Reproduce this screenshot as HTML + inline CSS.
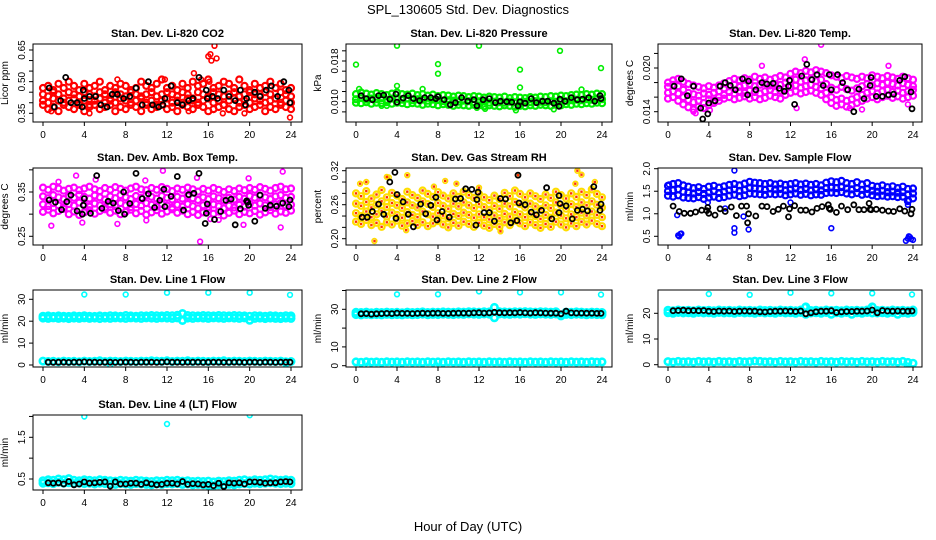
<!DOCTYPE html>
<html><head><meta charset="utf-8"><style>
html,body{margin:0;padding:0;background:#fff;}
svg{display:block;font-family:"Liberation Sans",sans-serif;}
</style></head><body>
<svg id="chart" width="936" height="540" viewBox="0 0 936 540" xmlns="http://www.w3.org/2000/svg">
<text x="468" y="14" text-anchor="middle" font-size="13">SPL_130605  Std. Dev. Diagnostics</text>
<text x="468" y="531" text-anchor="middle" font-size="13">Hour of Day (UTC)</text>
</svg>
<script>
// ---------- data ----------
const hourTicks = [0,4,8,12,16,20,24];

// CO2 (ppm)
const co2A = [0.47,0.48,0.46,0.49,0.47,0.50,0.48,0.46,0.49,0.47,0.48,0.50,0.46,0.48,0.47,0.49,0.48,0.46,0.47,0.50,0.48,0.47,0.49,0.51,0.47,0.48,0.46,0.49,0.47,0.50,0.48,0.49,0.51,0.47,0.48,0.50,0.49,0.47,0.51,0.48,0.46,0.49,0.47,0.48,0.50,0.47,0.49,0.46,0.47];
const co2B = [0.44,0.43,0.45,0.44,0.42,0.45,0.44,0.43,0.45,0.44,0.43,0.45,0.44,0.42,0.45,0.44,0.43,0.45,0.44,0.43,0.44,0.45,0.43,0.44,0.45,0.44,0.43,0.45,0.44,0.42,0.45,0.44,0.43,0.45,0.44,0.43,0.44,0.45,0.43,0.44,0.45,0.44,0.43,0.45,0.44,0.42,0.45,0.44,0.43];
const co2C = [0.41,0.40,0.42,0.41,0.40,0.41,0.42,0.40,0.41,0.39,0.41,0.42,0.40,0.41,0.40,0.42,0.41,0.40,0.41,0.42,0.40,0.41,0.39,0.41,0.42,0.40,0.41,0.40,0.42,0.41,0.40,0.41,0.42,0.40,0.41,0.39,0.41,0.42,0.40,0.41,0.40,0.42,0.41,0.40,0.41,0.42,0.40,0.41,0.40];
const co2D = [0.39,0.37,0.38,0.36,0.39,0.38,0.37,0.39,0.36,0.38,0.39,0.37,0.38,0.39,0.36,0.38,0.37,0.39,0.38,0.36,0.39,0.37,0.38,0.39,0.37,0.38,0.36,0.39,0.38,0.37,0.39,0.38,0.36,0.37,0.38,0.39,0.37,0.36,0.38,0.39,0.37,0.38,0.39,0.36,0.38,0.37,0.39,0.38,0.37];
const co2OutX = [16.0,16.2,16.6,16.8,16.3,14.6,15.3,16.1,23.9,14.1,17.4,19.5,4.5,0.8,7.2,11.8];
const co2OutY = [0.62,0.63,0.67,0.61,0.60,0.54,0.51,0.50,0.33,0.36,0.35,0.35,0.35,0.36,0.51,0.51];
const co2BlkX = [0.6,1.1,1.7,2.2,2.7,3.3,3.8,3.9,4.0,4.5,5.1,5.6,6.2,6.7,7.2,7.8,8.4,9.0,9.6,10.2,10.6,11.2,11.6,11.8,12.4,13.0,13.5,14.1,14.5,15.1,15.8,15.9,16.4,16.9,17.5,18.0,18.6,19.1,19.6,19.7,20.5,21.0,21.6,22.1,22.7,23.3,23.8,23.9];
const co2BlkY = [0.47,0.38,0.41,0.52,0.40,0.40,0.38,0.46,0.42,0.43,0.43,0.39,0.38,0.44,0.44,0.42,0.43,0.47,0.39,0.50,0.39,0.38,0.39,0.42,0.48,0.40,0.39,0.41,0.42,0.52,0.46,0.42,0.43,0.42,0.46,0.43,0.41,0.46,0.39,0.42,0.45,0.43,0.46,0.48,0.43,0.50,0.46,0.40];

// Pressure (kPa)
const prsA = [0.0115,0.0118,0.0116,0.0114,0.0117,0.0115,0.0113,0.0116,0.0118,0.0115,0.0114,0.0116,0.0113,0.0115,0.0112,0.0114,0.0111,0.0113,0.0112,0.0110,0.0112,0.0111,0.0109,0.0111,0.0110,0.0108,0.0110,0.0109,0.0108,0.0110,0.0107,0.0109,0.0108,0.0107,0.0109,0.0108,0.0110,0.0109,0.0111,0.0110,0.0112,0.0111,0.0113,0.0114,0.0113,0.0115,0.0114,0.0116,0.0115];
const prsB = [0.0105,0.0107,0.0104,0.0106,0.0105,0.0107,0.0104,0.0106,0.0105,0.0104,0.0106,0.0103,0.0105,0.0104,0.0102,0.0104,0.0103,0.0101,0.0103,0.0102,0.0100,0.0102,0.0101,0.0099,0.0101,0.0100,0.0098,0.0100,0.0099,0.0098,0.0100,0.0099,0.0098,0.0100,0.0099,0.0101,0.0100,0.0099,0.0101,0.0100,0.0102,0.0101,0.0103,0.0104,0.0103,0.0105,0.0104,0.0106,0.0105];
const prsC = [0.0098,0.0097,0.0099,0.0096,0.0098,0.0097,0.0099,0.0096,0.0098,0.0097,0.0095,0.0097,0.0096,0.0094,0.0096,0.0095,0.0093,0.0095,0.0094,0.0092,0.0094,0.0093,0.0092,0.0094,0.0093,0.0091,0.0093,0.0092,0.0091,0.0093,0.0092,0.0090,0.0092,0.0091,0.0093,0.0092,0.0094,0.0093,0.0092,0.0094,0.0093,0.0095,0.0094,0.0096,0.0095,0.0097,0.0096,0.0098,0.0097];
const prsOutX = [0,4,12,19.9,8,8,16,23.9,4,16,0.3,6.5,22,15.6,19.3,12.6,11.8,2.5,3.0];
const prsOutY = [0.0173,0.0210,0.0210,0.0200,0.0174,0.0155,0.0163,0.0166,0.0131,0.0128,0.0125,0.0125,0.0124,0.0083,0.0085,0.0086,0.0088,0.0092,0.0092];
const prsBlkX = [0.5,1.0,1.6,2.2,2.7,3.3,3.9,4.0,4.6,5.1,5.6,6.2,6.7,7.3,7.8,8.0,8.6,9.2,9.7,10.3,10.9,11.5,11.8,12.4,13.0,13.6,14.1,14.7,15.2,15.8,16.0,16.5,17.1,17.6,18.2,18.7,19.3,19.8,19.9,20.4,21.0,21.6,22.1,22.7,23.3,23.8,23.9];
const prsBlkY = [0.0112,0.0106,0.0104,0.0112,0.0113,0.0105,0.0115,0.0099,0.0107,0.0112,0.0106,0.0102,0.0108,0.0108,0.0106,0.0110,0.0104,0.0094,0.0098,0.0108,0.0101,0.0104,0.0092,0.0104,0.0106,0.0098,0.0101,0.0100,0.0099,0.0092,0.0100,0.0097,0.0106,0.0098,0.0101,0.0101,0.0097,0.0091,0.0105,0.0101,0.0108,0.0104,0.0105,0.0108,0.0101,0.0112,0.0106];

// Li-820 temperature (degrees C)
const tmpA = [0.0180,0.0183,0.0185,0.0181,0.0178,0.0176,0.0174,0.0172,0.0175,0.0173,0.0176,0.0179,0.0182,0.0185,0.0183,0.0186,0.0184,0.0188,0.0185,0.0187,0.0184,0.0186,0.0189,0.0187,0.0192,0.0195,0.0193,0.0196,0.0194,0.0197,0.0195,0.0193,0.0190,0.0188,0.0186,0.0189,0.0187,0.0185,0.0188,0.0186,0.0190,0.0188,0.0186,0.0189,0.0187,0.0185,0.0188,0.0186,0.0184];
const tmpB = [0.0174,0.0177,0.0175,0.0170,0.0166,0.0164,0.0162,0.0165,0.0163,0.0166,0.0168,0.0172,0.0175,0.0177,0.0174,0.0176,0.0178,0.0175,0.0177,0.0179,0.0176,0.0178,0.0177,0.0180,0.0182,0.0184,0.0181,0.0183,0.0185,0.0182,0.0184,0.0178,0.0173,0.0170,0.0174,0.0171,0.0169,0.0172,0.0175,0.0178,0.0176,0.0179,0.0177,0.0180,0.0178,0.0176,0.0179,0.0177,0.0175];
const tmpC = [0.0166,0.0168,0.0165,0.0160,0.0156,0.0153,0.0155,0.0152,0.0157,0.0155,0.0160,0.0163,0.0167,0.0165,0.0168,0.0166,0.0169,0.0167,0.0165,0.0168,0.0170,0.0167,0.0169,0.0172,0.0174,0.0176,0.0173,0.0175,0.0177,0.0174,0.0172,0.0166,0.0160,0.0156,0.0158,0.0155,0.0157,0.0160,0.0163,0.0166,0.0168,0.0165,0.0168,0.0170,0.0167,0.0169,0.0166,0.0168,0.0170];
const tmpD = [0.0158,0.0160,0.0155,0.0150,0.0146,0.0143,0.0147,0.0145,0.0149,0.0152,0.0155,0.0158,0.0160,0.0157,0.0159,0.0161,0.0158,0.0160,0.0157,0.0159,0.0162,0.0160,0.0158,0.0163,0.0166,0.0168,0.0165,0.0167,0.0169,0.0166,0.0163,0.0157,0.0152,0.0148,0.0150,0.0147,0.0149,0.0152,0.0155,0.0158,0.0160,0.0157,0.0160,0.0162,0.0159,0.0161,0.0158,0.0160,0.0162];
const tmpOutX = [15.0,13.4,9.2,21.6,2.5,4.1,12.6,17.8,23.5,2.7,19.0];
const tmpOutY = [0.0232,0.0212,0.0203,0.0203,0.0140,0.0142,0.0145,0.0145,0.0150,0.0138,0.0143];
const tmpBlkX = [0.6,1.3,1.9,2.5,3.2,3.4,3.9,4.0,4.6,5.1,5.6,6.1,6.6,7.3,7.8,7.9,8.6,9.2,9.7,10.3,10.9,11.4,11.8,11.9,12.4,13.1,13.6,14.1,14.6,15.2,15.8,16.0,16.6,17.1,17.6,18.2,18.7,19.2,19.8,19.9,20.4,21.0,21.6,22.1,22.7,23.2,23.8,23.9];
const tmpBlkY = [0.0175,0.0185,0.0162,0.0175,0.0145,0.0130,0.0137,0.0152,0.0155,0.0175,0.0180,0.0176,0.0170,0.0185,0.0163,0.0182,0.0170,0.0180,0.0178,0.0179,0.0172,0.0168,0.0175,0.0183,0.0150,0.0189,0.0205,0.0184,0.0191,0.0176,0.0191,0.0170,0.0191,0.0180,0.0170,0.0140,0.0171,0.0158,0.0176,0.0187,0.0161,0.0161,0.0163,0.0164,0.0183,0.0188,0.0167,0.0144];

// Ambient box temperature (degrees C)
const boxA = [0.360,0.355,0.362,0.358,0.353,0.357,0.360,0.354,0.358,0.362,0.356,0.352,0.359,0.355,0.361,0.357,0.353,0.358,0.362,0.356,0.354,0.359,0.355,0.361,0.357,0.352,0.358,0.355,0.360,0.356,0.351,0.357,0.353,0.359,0.355,0.350,0.356,0.352,0.358,0.354,0.359,0.355,0.361,0.357,0.353,0.359,0.362,0.356,0.358];
const boxB = [0.340,0.336,0.343,0.338,0.334,0.341,0.337,0.344,0.339,0.335,0.342,0.338,0.333,0.340,0.336,0.343,0.338,0.334,0.341,0.337,0.343,0.339,0.335,0.341,0.337,0.333,0.339,0.335,0.341,0.336,0.332,0.338,0.334,0.340,0.336,0.331,0.337,0.333,0.339,0.335,0.341,0.337,0.342,0.338,0.334,0.340,0.343,0.337,0.339];
const boxC = [0.322,0.318,0.325,0.320,0.316,0.323,0.319,0.326,0.321,0.317,0.324,0.320,0.315,0.322,0.318,0.325,0.320,0.316,0.323,0.319,0.325,0.321,0.317,0.323,0.319,0.315,0.321,0.317,0.323,0.318,0.313,0.320,0.316,0.322,0.318,0.313,0.319,0.315,0.321,0.317,0.323,0.319,0.324,0.320,0.316,0.322,0.325,0.319,0.321];
const boxD = [0.305,0.310,0.302,0.307,0.312,0.300,0.306,0.298,0.304,0.309,0.301,0.307,0.311,0.303,0.308,0.300,0.305,0.310,0.302,0.307,0.299,0.304,0.309,0.301,0.306,0.311,0.303,0.308,0.300,0.305,0.298,0.304,0.309,0.301,0.306,0.297,0.303,0.308,0.300,0.305,0.302,0.307,0.299,0.304,0.309,0.301,0.306,0.303,0.308];
const boxOutX = [0.8,3.2,11.6,15.2,23.0,23.2,7.2,5.1,16.2,17.0,3.8,19.4,10.0,1.5,9.9,19.9,14.9];
const boxOutY = [0.274,0.387,0.398,0.238,0.270,0.396,0.278,0.378,0.289,0.287,0.281,0.276,0.286,0.373,0.376,0.381,0.382];
const boxBlkX = [0.6,1.2,1.8,2.3,2.7,3.3,3.8,3.9,4.0,4.6,5.2,5.7,6.3,6.8,7.3,7.8,7.9,8.4,9.0,9.6,10.2,10.8,11.3,11.7,11.8,12.4,13.0,13.6,14.1,14.6,15.1,15.7,15.8,15.9,16.6,17.2,17.7,18.2,18.6,19.1,19.7,19.8,19.9,20.5,21.0,21.5,22.0,22.6,23.2,23.8,23.9];
const boxBlkY = [0.332,0.327,0.310,0.328,0.343,0.307,0.300,0.320,0.335,0.302,0.387,0.313,0.329,0.325,0.308,0.350,0.300,0.324,0.392,0.335,0.346,0.315,0.331,0.356,0.317,0.340,0.385,0.309,0.344,0.347,0.392,0.279,0.302,0.323,0.288,0.306,0.331,0.334,0.276,0.312,0.330,0.327,0.320,0.284,0.343,0.313,0.320,0.318,0.325,0.317,0.332];

// Gas stream RH (percent)
const rhA = [0.280,0.275,0.284,0.271,0.278,0.286,0.273,0.281,0.276,0.270,0.283,0.277,0.272,0.285,0.279,0.274,0.282,0.276,0.271,0.280,0.274,0.283,0.277,0.272,0.279,0.273,0.268,0.276,0.270,0.281,0.275,0.285,0.279,0.273,0.280,0.275,0.270,0.278,0.272,0.283,0.277,0.271,0.280,0.274,0.283,0.277,0.287,0.279,0.273];
const rhB = [0.262,0.258,0.265,0.255,0.260,0.266,0.256,0.263,0.259,0.254,0.264,0.259,0.255,0.266,0.261,0.256,0.263,0.258,0.253,0.262,0.257,0.264,0.259,0.254,0.261,0.256,0.251,0.258,0.253,0.262,0.257,0.265,0.261,0.255,0.262,0.257,0.252,0.259,0.254,0.264,0.259,0.253,0.261,0.256,0.264,0.259,0.266,0.260,0.255];
const rhC = [0.245,0.240,0.248,0.238,0.243,0.249,0.239,0.246,0.242,0.237,0.247,0.242,0.238,0.248,0.243,0.239,0.245,0.241,0.236,0.244,0.240,0.246,0.242,0.237,0.243,0.238,0.234,0.241,0.236,0.244,0.239,0.247,0.243,0.238,0.244,0.240,0.235,0.242,0.237,0.246,0.241,0.236,0.243,0.238,0.246,0.241,0.248,0.242,0.238];
const rhD = [0.230,0.226,0.233,0.224,0.228,0.221,0.229,0.225,0.232,0.223,0.227,0.231,0.224,0.229,0.222,0.227,0.231,0.225,0.220,0.228,0.223,0.230,0.226,0.221,0.228,0.223,0.219,0.226,0.221,0.229,0.224,0.232,0.227,0.222,0.229,0.224,0.219,0.226,0.221,0.230,0.225,0.220,0.227,0.222,0.230,0.225,0.232,0.226,0.222];
const rhOutX = [1.8,3.2,5.0,8.7,9.8,15.8,21.6,22.0,23.3,14.1,4.9,0.4,1.0,21.4,3.0,12.0,7.6];
const rhOutY = [0.196,0.308,0.312,0.302,0.297,0.312,0.320,0.313,0.300,0.213,0.215,0.297,0.300,0.297,0.309,0.290,0.292];
const rhBlkX = [0.6,1.1,1.6,2.2,2.7,3.3,3.8,3.9,4.0,4.6,5.1,5.6,6.3,6.8,7.3,7.8,7.9,8.4,9.1,9.7,10.2,10.7,11.3,11.7,11.8,11.9,12.5,13.0,13.5,14.1,14.6,15.1,15.7,15.8,15.9,16.5,17.1,17.6,18.1,18.6,19.1,19.8,19.8,19.9,20.5,21.1,21.6,22.1,22.6,23.2,23.8,23.9];
const rhBlkY = [0.238,0.238,0.248,0.261,0.243,0.300,0.317,0.236,0.278,0.265,0.243,0.221,0.261,0.244,0.259,0.273,0.233,0.248,0.238,0.270,0.271,0.288,0.287,0.224,0.269,0.282,0.246,0.246,0.231,0.271,0.270,0.228,0.232,0.312,0.263,0.260,0.247,0.242,0.250,0.290,0.235,0.276,0.246,0.262,0.258,0.235,0.250,0.252,0.249,0.292,0.250,0.261];

// Sample flow (ml/min)
const sfA = [1.62,1.66,1.68,1.63,1.60,1.57,1.59,1.55,1.60,1.62,1.58,1.61,1.64,1.66,1.63,1.67,1.71,1.69,1.68,1.66,1.68,1.65,1.67,1.64,1.66,1.68,1.65,1.67,1.64,1.66,1.63,1.69,1.72,1.70,1.73,1.68,1.66,1.70,1.65,1.68,1.62,1.60,1.63,1.59,1.61,1.57,1.60,1.55,1.56];
const sfB = [1.50,1.52,1.54,1.49,1.47,1.45,1.48,1.44,1.47,1.50,1.46,1.49,1.52,1.54,1.51,1.53,1.57,1.56,1.55,1.53,1.56,1.54,1.55,1.52,1.54,1.56,1.53,1.55,1.52,1.54,1.52,1.57,1.58,1.57,1.59,1.56,1.54,1.57,1.53,1.55,1.51,1.49,1.51,1.48,1.49,1.47,1.48,1.43,1.45];
const sfC = [1.40,1.38,1.41,1.36,1.35,1.34,1.37,1.33,1.36,1.38,1.35,1.37,1.40,1.42,1.39,1.41,1.45,1.44,1.43,1.42,1.44,1.43,1.44,1.41,1.43,1.45,1.42,1.44,1.41,1.43,1.42,1.46,1.47,1.46,1.48,1.45,1.43,1.46,1.42,1.44,1.41,1.39,1.40,1.38,1.39,1.37,1.38,1.28,1.34];
const sfOutX = [1.0,1.1,1.2,1.3,0.9,6.5,6.5,6.5,7.9,7.4,5.6,3.9,12.0,16.0,23.3,23.5,23.6,23.8,24.0,23.7,23.5,23.6,0.1];
const sfOutY = [0.52,0.50,0.55,0.56,0.97,1.96,0.68,0.58,0.65,0.94,1.12,1.25,1.25,0.68,0.40,0.45,0.50,0.44,0.42,0.48,1.20,1.30,1.65];
const sfBlkX = [0.5,1.1,1.6,2.2,2.7,3.3,3.8,3.9,4.0,4.6,5.1,5.6,6.2,6.7,7.2,7.7,7.8,7.9,8.6,9.2,9.7,10.3,10.8,11.3,11.8,11.9,12.4,13.0,13.5,14.1,14.6,15.1,15.7,15.8,15.9,16.5,17.0,17.6,18.2,18.7,19.2,19.7,19.8,19.9,20.4,21.0,21.6,22.1,22.7,23.2,23.8,23.9];
const sfBlkY = [1.17,1.05,1.01,1.01,1.04,1.08,1.07,1.14,1.01,0.97,1.11,1.05,1.15,0.96,1.17,1.17,0.80,1.00,0.95,1.17,1.16,1.05,1.10,1.17,0.93,1.11,1.18,1.08,1.08,1.04,1.12,1.16,1.20,1.12,1.10,1.03,1.17,1.09,1.20,1.09,1.09,1.23,1.10,1.09,1.10,1.08,1.06,1.05,1.11,1.06,1.00,1.10];

// Line 1 flow (ml/min)
const l1A = [22.3,22.4,22.2,22.4,22.3,22.2,22.4,22.3,22.5,22.3,22.2,22.4,22.3,22.5,22.4,22.3,22.6,22.4,22.3,22.5,22.4,22.6,22.5,22.4,22.6,22.5,22.7,23.5,22.6,22.5,22.4,22.6,22.5,22.4,22.6,22.5,22.4,22.6,22.5,22.4,22.3,22.5,22.4,22.3,22.5,22.4,22.3,22.5,22.4];
const l1B = [21.4,21.3,21.5,21.3,21.4,21.2,21.4,21.3,21.5,21.3,21.4,21.2,21.4,21.3,21.5,21.4,21.3,21.5,21.4,21.3,21.5,21.4,21.3,21.5,21.4,21.3,21.5,20.3,21.4,21.3,21.5,21.4,21.3,21.5,21.4,21.3,21.5,21.4,21.3,21.5,20.4,21.3,21.4,21.2,21.4,21.3,21.2,21.4,21.3];
const l1Low = [1.8,1.6,1.7,1.5,1.8,1.6,1.7,1.5,1.8,1.6,1.7,1.9,1.6,1.8,1.7,1.6,1.8,1.7,1.6,1.8,1.7,1.9,1.8,1.7,1.9,1.6,1.8,1.7,1.9,1.6,1.8,1.7,1.6,1.8,1.7,1.9,1.6,1.8,1.7,1.6,1.8,1.7,1.6,1.8,1.7,1.6,1.8,1.5,1.6];
const l1OutX = [4,8,12,16,20,23.9,6.5,23.5];
const l1OutY = [32.2,32.2,33.0,33.0,33.0,32.0,0.0,0.2];
const l1BlkX = [0.5,1.0,1.5,2.0,2.5,3.0,3.5,4.0,4.5,5.0,5.5,6.0,6.5,7.0,7.5,8.0,8.5,9.0,9.5,10.0,10.5,11.0,11.5,12.0,12.5,13.0,13.5,14.0,14.5,15.0,15.5,16.0,16.5,17.0,17.5,18.0,18.5,19.0,19.5,20.0,20.5,21.0,21.5,22.0,22.5,23.0,23.5,23.9];
const l1BlkY = [1.3,1.2,1.3,1.3,1.2,1.3,1.3,1.4,1.3,1.3,1.2,1.3,1.3,1.2,1.3,1.3,1.3,1.2,1.3,1.3,1.3,1.2,1.3,1.4,1.3,1.3,1.2,1.3,1.3,1.3,1.2,1.3,1.3,1.3,1.2,1.3,1.3,1.3,1.2,1.3,1.3,1.2,1.3,1.3,1.2,1.3,1.3,1.3];

// Line 2 flow (ml/min)
const l2A = [28.4,28.3,28.5,28.2,28.4,28.3,28.5,28.3,28.4,28.2,28.5,28.3,28.4,28.6,28.3,28.5,28.4,28.6,28.5,28.4,28.6,28.5,28.7,28.6,28.5,28.7,28.6,31.0,28.7,28.6,28.5,28.7,28.6,28.8,28.6,28.5,28.7,28.6,28.5,28.7,27.0,28.5,28.4,28.6,28.5,28.3,28.5,28.4,28.3];
const l2B = [27.2,27.0,27.3,27.1,27.2,27.0,27.3,27.1,27.2,27.0,27.3,27.1,27.2,27.4,27.1,27.3,27.2,27.4,27.3,27.2,27.4,27.3,27.5,27.4,27.3,27.5,27.4,25.5,27.5,27.4,27.3,27.5,27.4,27.6,27.4,27.3,27.5,27.4,27.3,27.5,26.5,27.3,27.2,27.4,27.3,27.1,27.3,27.2,27.1];
const l2Low = [2.0,1.8,2.1,1.9,2.0,1.8,2.1,1.9,2.0,1.8,2.1,1.9,2.0,1.8,2.1,1.9,2.0,1.8,2.1,1.9,2.0,1.8,2.1,1.9,2.0,1.8,2.1,1.9,2.0,1.8,2.1,1.9,2.0,1.8,2.1,1.9,2.0,1.8,2.1,1.9,2.0,1.8,2.1,1.9,2.0,1.8,2.1,1.9,2.0];
const l2OutX = [4,8,12,16,20,23.9,1.2,7.8];
const l2OutY = [38.0,38.0,39.5,39.0,39.0,37.8,0.3,0.3];
const l2BlkX = [0.5,1.0,1.5,2.0,2.5,3.0,3.5,4.0,4.5,5.0,5.5,6.0,6.5,7.0,7.5,8.0,8.5,9.0,9.5,10.0,10.5,11.0,11.5,12.0,12.5,13.0,13.5,14.0,14.5,15.0,15.5,16.0,16.5,17.0,17.5,18.0,18.5,19.0,19.5,20.0,20.5,21.0,21.5,22.0,22.5,23.0,23.5,23.9];
const l2BlkY = [27.6,27.7,27.4,27.6,27.7,27.8,27.7,28.0,27.8,27.8,27.7,27.8,27.9,27.8,27.9,28.0,27.8,27.8,27.9,28.0,28.0,27.9,28.1,28.2,28.0,28.1,28.4,28.2,28.1,28.2,28.1,28.3,28.1,28.0,28.2,28.1,28.0,27.9,27.9,27.6,29.0,28.1,28.0,28.0,27.9,27.9,27.8,27.8];

// Line 3 flow (ml/min)
const l3A = [21.2,21.0,21.3,21.1,21.2,21.0,21.3,21.1,21.2,21.0,21.3,21.1,21.2,21.0,21.3,21.1,21.2,21.0,21.3,21.1,21.2,21.0,21.3,21.1,21.2,21.0,21.3,22.5,21.1,21.2,21.0,21.3,21.1,21.2,21.0,21.3,21.1,21.2,21.0,21.3,22.5,21.1,21.2,21.0,21.3,21.1,21.2,21.0,21.3];
const l3B = [20.2,20.0,20.3,20.1,20.2,20.0,20.3,20.1,20.2,20.0,20.3,20.1,20.2,20.0,20.3,20.1,20.2,20.0,20.3,20.1,20.2,20.0,20.3,20.1,20.2,20.0,20.3,19.6,20.1,20.2,20.0,20.3,19.6,20.2,20.0,20.3,19.6,20.2,20.0,20.3,20.1,20.1,20.2,20.0,20.3,19.6,20.2,20.0,20.3];
const l3Low = [1.2,1.0,1.3,1.1,1.2,1.0,1.3,1.1,1.2,1.0,1.3,1.1,1.2,1.0,1.3,1.1,1.2,1.4,1.3,1.1,1.2,1.0,1.3,1.1,1.2,1.0,1.3,1.1,1.2,1.0,1.3,1.1,1.2,1.0,1.3,1.1,1.2,1.0,1.3,1.1,1.2,1.0,1.3,1.1,1.2,1.0,1.3,0.9,0.6];
const l3OutX = [4,8,12,16,20,23.9,23.4,13.4,20.1];
const l3OutY = [27.5,27.2,28.0,27.8,27.8,27.3,-0.3,22.5,22.5];
const l3BlkX = [0.5,1.0,1.5,2.0,2.5,3.0,3.5,4.0,4.5,5.0,5.5,6.0,6.5,7.0,7.5,8.0,8.5,9.0,9.5,10.0,10.5,11.0,11.5,12.0,12.5,13.0,13.5,14.0,14.5,15.0,15.5,16.0,16.5,17.0,17.5,18.0,18.5,19.0,19.5,20.0,20.5,21.0,21.5,22.0,22.5,23.0,23.5,23.9];
const l3BlkY = [21.0,21.1,21.2,21.0,21.1,21.0,21.1,20.8,20.7,20.9,20.8,20.9,20.7,20.8,20.9,20.8,20.8,20.6,20.5,20.7,20.8,20.8,20.9,20.8,20.7,20.9,19.8,20.2,20.6,20.8,20.8,21.0,20.3,20.6,20.7,20.7,20.8,20.8,20.9,21.3,20.2,21.1,20.9,20.8,20.9,20.8,20.8,20.9];

// Line 4 (LT) flow (ml/min)
const l4A = [0.46,0.48,0.47,0.50,0.48,0.51,0.47,0.46,0.48,0.47,0.46,0.48,0.47,0.46,0.45,0.47,0.46,0.45,0.47,0.46,0.45,0.44,0.46,0.45,0.47,0.46,0.47,0.45,0.46,0.44,0.45,0.44,0.45,0.43,0.45,0.44,0.46,0.45,0.47,0.48,0.46,0.48,0.47,0.48,0.50,0.48,0.47,0.48,0.47];
const l4B = [0.40,0.41,0.39,0.42,0.40,0.41,0.39,0.40,0.39,0.40,0.38,0.40,0.39,0.38,0.37,0.39,0.38,0.37,0.39,0.38,0.37,0.36,0.38,0.37,0.39,0.38,0.39,0.37,0.38,0.36,0.37,0.36,0.35,0.34,0.36,0.35,0.37,0.36,0.38,0.39,0.38,0.40,0.39,0.40,0.41,0.40,0.39,0.40,0.39];
const l4OutX = [4,12,20];
const l4OutY = [2.00,1.82,2.03];
const l4BlkX = [0.5,1.0,1.5,2.0,2.5,3.0,3.5,4.0,4.5,5.0,5.5,6.0,6.5,7.0,7.5,8.0,8.5,9.0,9.5,10.0,10.5,11.0,11.5,12.0,12.5,13.0,13.5,14.0,14.5,15.0,15.5,16.0,16.5,17.0,17.5,18.0,18.5,19.0,19.5,20.0,20.5,21.0,21.5,22.0,22.5,23.0,23.5,23.9];
const l4BlkY = [0.41,0.40,0.41,0.38,0.44,0.36,0.38,0.43,0.40,0.41,0.42,0.43,0.33,0.43,0.38,0.38,0.40,0.40,0.37,0.41,0.38,0.36,0.37,0.40,0.40,0.38,0.44,0.37,0.39,0.38,0.36,0.37,0.34,0.40,0.32,0.41,0.40,0.41,0.38,0.43,0.43,0.42,0.40,0.41,0.41,0.43,0.44,0.43];

// ---------- rendering ----------
const NS = "http://www.w3.org/2000/svg";
const svg = document.getElementById("chart");
function mk(tag, attrs, parent) {
  const e = document.createElementNS(NS, tag);
  for (const k in attrs) e.setAttribute(k, attrs[k]);
  (parent || svg).appendChild(e);
  return e;
}
const cols = [{bl:33,br:302,x0:43,x24:291},{bl:346,br:612,x0:356,x24:602},{bl:658,br:922,x0:668,x24:913}];
const rows = [{t:44,b:122},{t:168,b:245},{t:290,b:367},{t:415,b:490}];

const panels = [
 {name:"co2",title:"Stan. Dev. Li-820 CO2",ylab:"Licor ppm",c:0,r:0,ref:[0.35,113.3,0.65,50],ticks:[0.35,0.40,0.45,0.50,0.55,0.60,0.65],labs:[[0.35,"0.35"],[0.50,"0.50"],[0.65,"0.65"]],cloud:[co2A,co2B,co2C,co2D],out:[co2OutX,co2OutY],blk:[co2BlkX,co2BlkY],col:"#ff0000"},
 {name:"pressure",title:"Stan. Dev. Li-820 Pressure",ylab:"kPa",c:1,r:0,ref:[0.010,101.7,0.018,61],ticks:[0.008,0.010,0.012,0.014,0.016,0.018,0.020],labs:[[0.010,"0.010"],[0.018,"0.018"]],cloud:[prsA,prsB,prsC],out:[prsOutX,prsOutY],blk:[prsBlkX,prsBlkY],col:"#00ee00"},
 {name:"li820-temp",title:"Stan. Dev. Li-820 Temp.",ylab:"degrees C",c:2,r:0,ref:[0.014,111.7,0.020,68],ticks:[0.014,0.016,0.018,0.020,0.022],labs:[[0.014,"0.014"],[0.020,"0.020"]],cloud:[tmpA,tmpB,tmpC,tmpD],out:[tmpOutX,tmpOutY],blk:[tmpBlkX,tmpBlkY],col:"#ff00ff"},
 {name:"box-temp",title:"Stan. Dev. Amb. Box Temp.",ylab:"degrees C",c:0,r:1,ref:[0.25,236.3,0.35,192],ticks:[0.25,0.30,0.35,0.40],labs:[[0.25,"0.25"],[0.35,"0.35"]],cloud:[boxA,boxB,boxC,boxD],out:[boxOutX,boxOutY],blk:[boxBlkX,boxBlkY],col:"#ff00ff"},
 {name:"rh",title:"Stan. Dev. Gas Stream RH",ylab:"percent",c:1,r:1,ref:[0.20,238.7,0.32,170.7],ticks:[0.20,0.22,0.24,0.26,0.28,0.30,0.32],labs:[[0.20,"0.20"],[0.26,"0.26"],[0.32,"0.32"]],cloud:[rhA,rhB,rhC,rhD],out:[rhOutX,rhOutY],blk:[rhBlkX,rhBlkY],col:"#ffdd00",rh:true},
 {name:"sample-flow",title:"Stan. Dev. Sample Flow",ylab:"ml/min",c:2,r:1,ref:[0.5,236.3,2.0,168.7],ticks:[0.5,1.0,1.5,2.0],labs:[[0.5,"0.5"],[1.0,"1.0"],[1.5,"1.5"],[2.0,"2.0"]],cloud:[sfA,sfB,sfC],out:[sfOutX,sfOutY],blk:[sfBlkX,sfBlkY],col:"#0000ff"},
 {name:"line1-flow",title:"Stan. Dev. Line 1 Flow",ylab:"ml/min",c:0,r:2,ref:[0,365,30,299.3],ticks:[0,10,20,30],labs:[[0,"0"],[10,"10"],[20,"20"],[30,"30"]],cloud:[l1A,l1B,l1Low],out:[l1OutX,l1OutY],blk:[l1BlkX,l1BlkY],col:"#00ffff",cyan:true},
 {name:"line2-flow",title:"Stan. Dev. Line 2 Flow",ylab:"ml/min",c:1,r:2,ref:[0,365.7,30,309.3],ticks:[0,10,20,30,40],labs:[[0,"0"],[10,"10"],[30,"30"]],cloud:[l2A,l2B,l2Low],out:[l2OutX,l2OutY],blk:[l2BlkX,l2BlkY],col:"#00ffff",cyan:true},
 {name:"line3-flow",title:"Stan. Dev. Line 3 Flow",ylab:"ml/min",c:2,r:2,ref:[0,364.7,20,313.3],ticks:[0,10,20],labs:[[0,"0"],[10,"10"],[20,"20"]],cloud:[l3A,l3B,l3Low],out:[l3OutX,l3OutY],blk:[l3BlkX,l3BlkY],col:"#00ffff",cyan:true},
 {name:"line4-flow",title:"Stan. Dev. Line 4 (LT) Flow",ylab:"ml/min",c:0,r:3,ref:[0.5,479,1.5,437.3],ticks:[0.5,1.0,1.5,2.0],labs:[[0.5,"0.5"],[1.5,"1.5"]],cloud:[l4A,l4B],out:[l4OutX,l4OutY],blk:[l4BlkX,l4BlkY],col:"#00ffff",cyan:true}
];

panels.forEach(p => {
  const C = cols[p.c], R = rows[p.r];
  const xs = h => C.x0 + (C.x24 - C.x0) * h / 24;
  const ys = v => p.ref[1] + (v - p.ref[0]) * (p.ref[3] - p.ref[1]) / (p.ref[2] - p.ref[0]);
  const g = mk("g", {});
  
  
  const clip = mk("clipPath", {id: "clip-" + p.name}, g);
  mk("rect", {x: C.bl, y: R.t, width: C.br - C.bl, height: R.b - R.t}, clip);
  const marks = mk("g", {"clip-path": "url(#clip-" + p.name + ")"}, g);
  
  
  function dot(h, v, color, r, w, nm) {
    const c = mk("circle", {cx: xs(h).toFixed(1), cy: ys(v).toFixed(1), r: r, fill: "none", stroke: color, "stroke-width": w}, marks);
    
    
    if (p.rh && color !== "#000") {
      const d = mk("rect", {x: (xs(h) - 1.2).toFixed(1), y: (ys(v) - 1.2).toFixed(1), width: 2.4, height: 2.4, fill: "#ff3300"}, marks);
      
      
    }
  }
  const rc = p.cyan ? 3.2 : 3.0;
  const wc = p.cyan ? 2.6 : 2.2;
  p.cloud.forEach(arr => arr.forEach((v, i) => dot(i * 0.5, v, p.col, rc, wc, p.name + '-point')));
  p.out[0].forEach((h, i) => dot(h, p.out[1][i], p.col, 2.4, 1.6, p.name + '-outlier'));
  p.blk[0].forEach((h, i) => dot(h, p.blk[1][i], "#000", 2.5, 1.8, p.name + '-hourly-point'));
  const box = mk("rect", {x: C.bl, y: R.t, width: C.br - C.bl, height: R.b - R.t, fill: "none", stroke: "#000", "stroke-width": 1}, g);
  
  
  const t = mk("text", {x: (C.bl + C.br) / 2, y: R.t - 7, "text-anchor": "middle", "font-size": 11, "font-weight": "bold"}, g);
  t.textContent = p.title;
  
  
  hourTicks.forEach(h => {
    const tk = mk("line", {x1: xs(h), x2: xs(h), y1: R.b, y2: R.b + 4, stroke: "#000"}, g);
    
    
    const tl = mk("text", {x: xs(h), y: R.b + 16, "text-anchor": "middle", "font-size": 10}, g);
    tl.textContent = h;
    
    
  });
  p.ticks.forEach(v => {
    const tk = mk("line", {x1: C.bl - 4, x2: C.bl, y1: ys(v), y2: ys(v), stroke: "#000"}, g);
    
    
  });
  p.labs.forEach(([v, s]) => {
    const yy = ys(v), xx = C.bl - 8;
    const tl = mk("text", {x: xx, y: yy, "text-anchor": "middle", "font-size": 10, transform: "rotate(-90 " + xx + " " + yy + ")"}, g);
    tl.textContent = s;
    
    
  });
  const yx = C.bl - 25, yy = (R.t + R.b) / 2;
  const yl = mk("text", {x: yx, y: yy, "text-anchor": "middle", "font-size": 10, transform: "rotate(-90 " + yx + " " + yy + ")"}, g);
  yl.textContent = p.ylab;
  
  
});
</script>
</body></html>
